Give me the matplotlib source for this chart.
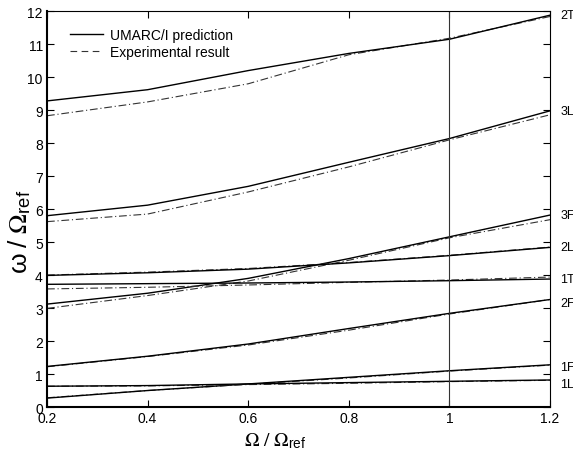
import matplotlib
matplotlib.use('Agg')
import matplotlib.pyplot as plt
from matplotlib.lines import Line2D

plt.rcParams['font.family'] = 'Liberation Sans'
plt.rcParams['mathtext.fontset'] = 'stix'

# rotor speed ratio
speed = [0.2, 0.4, 0.6, 0.8, 1.0, 1.2]

# mode labels, top to bottom at the right edge
modes = ['2T', '3L', '3F', '2L', '1T', '2F', '1F', '1L']

# UMARC/I predicted frequencies, per mode
pred_2T = [9.28, 9.62, 10.2, 10.72, 11.15, 11.88]
pred_3L = [5.80, 6.12, 6.69, 7.42, 8.14, 8.98]
pred_3F = [3.12, 3.45, 3.90, 4.50, 5.16, 5.82]
pred_2L = [3.99, 4.07, 4.18, 4.37, 4.59, 4.84]
pred_1T = [3.72, 3.74, 3.76, 3.79, 3.83, 3.88]
pred_2F = [1.23, 1.54, 1.91, 2.38, 2.84, 3.26]
pred_1F = [0.27, 0.50, 0.70, 0.90, 1.10, 1.28]
pred_1L = [0.63, 0.65, 0.70, 0.74, 0.78, 0.82]

# measured frequencies, per mode
exp_2T = [8.83, 9.25, 9.80, 10.68, 11.18, 11.84]
exp_3L = [5.62, 5.85, 6.52, 7.28, 8.10, 8.86]
exp_3F = [2.99, 3.38, 3.82, 4.45, 5.13, 5.68]
exp_2L = [4.00, 4.09, 4.20, 4.38, 4.60, 4.85]
exp_1T = [3.58, 3.63, 3.70, 3.78, 3.85, 3.94]
exp_2F = [1.22, 1.53, 1.88, 2.33, 2.82, 3.26]
exp_1F = [0.28, 0.50, 0.69, 0.88, 1.09, 1.27]
exp_1L = [0.63, 0.64, 0.68, 0.72, 0.77, 0.81]

preds = [pred_2T, pred_3L, pred_3F, pred_2L, pred_1T, pred_2F, pred_1F, pred_1L]
exps = [exp_2T, exp_3L, exp_3F, exp_2L, exp_1T, exp_2F, exp_1F, exp_1L]

fig = plt.figure(figsize=(5.73, 4.52), dpi=100)
ax = fig.add_axes([0.082, 0.0973, 0.878, 0.8757])

for p, e in zip(preds, exps):
    ax.plot(speed, e, color='#333333', lw=0.8, ls=(0, (7, 2.5, 1, 2.5)))
    ax.plot(speed, p, color='black', lw=1.0)

# nominal rotor speed
ax.axvline(1.0, color='#333333', lw=0.8)

# mode names just outside the right spine
label_dy = {'2F': -0.12, '1F': -0.07, '1L': -0.13}
for name, p in zip(modes, preds):
    ax.text(1.2 + 0.02, p[-1] + label_dy.get(name, 0.0), name, fontsize=9,
            ha='left', va='center', clip_on=False)

ax.set_xlim(0.2, 1.2)
ax.set_ylim(0, 12)
ax.set_xticks([0.2, 0.4, 0.6, 0.8, 1.0, 1.2])
ax.set_xticklabels(['0.2', '0.4', '0.6', '0.8', '1', '1.2'])
ax.set_yticks(range(0, 13))
ax.tick_params(direction='in', length=5, width=0.8, labelsize=10,
               top=True, right=True, pad=3)

for side in ['left', 'bottom']:
    ax.spines[side].set_linewidth(1.5)
for side in ['top', 'right']:
    ax.spines[side].set_linewidth(0.8)

ax.set_xlabel(r'$\Omega\ /\ \Omega_{\mathregular{ref}}$', fontsize=14)
ax.xaxis.set_label_coords(0.453, -0.058)
ax.set_ylabel(r'$\mathregular{\omega\ /\ }\Omega_{\mathregular{ref}}$', fontsize=19)
ax.yaxis.set_label_coords(-0.027, 0.445)

handles = [Line2D([], [], color='black', lw=1.0),
           Line2D([], [], color='#333333', lw=0.8, ls=(0, (6, 4)))]
ax.legend(handles, ['UMARC/I prediction', 'Experimental result'],
          loc='upper left', bbox_to_anchor=(0.046, 0.958), frameon=False,
          borderpad=0, borderaxespad=0, fontsize=10, handlelength=2.4,
          handletextpad=0.5, labelspacing=0.25)

fig.savefig('out.png', dpi=100)
